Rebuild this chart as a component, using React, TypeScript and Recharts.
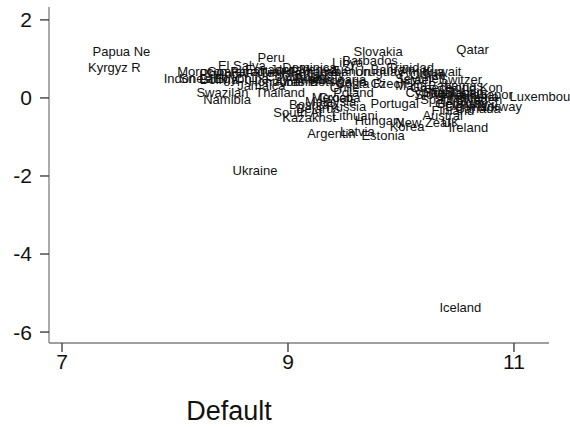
import React from 'react';
import { ScatterChart, Scatter, XAxis, YAxis } from 'recharts';

const countries = [
  'Papua Ne', 'Kyrgyz R', 'Morocco', 'Indonesi', 'Sri Lank', 'Guatemal', 'El Salva', 'Peru',
  'Philippi', 'Paraguay', 'Ecuador', 'Bolivia', 'Egypt', 'China', 'Honduras', 'Jamaica',
  'Thailand', 'Swazilan', 'Namibia', 'Ukraine', 'Tunisia', 'Jordan', 'Colombia', 'Dominica',
  'Panama', 'Venezuel', 'Albania', 'Armenia', 'Brazil', 'Turkey', 'Botswana', 'Bulgaria',
  'Lebanon', 'Libya', 'Barbados', 'Slovakia', 'Costa Ri', 'Poland', 'Czech', 'Bahrain',
  'Uruguay', 'Mexico', 'Croatia', 'Russia', 'Malaysia', 'Bosnia', 'Belarus', 'South Af',
  'Kazakhst', 'Lithuani', 'Argentin', 'Latvia', 'Estonia', 'Hungary', 'Portugal', 'Korea',
  'New Zeal', 'Trinidad', 'Kuwait', 'Switzer', 'Hong Kon', 'Singapor', 'Luxembou', 'Norway',
  'Austral', 'UK', 'Ireland', 'Qatar', 'Iceland', 'Slovenia', 'Greece', 'Israel',
  'Spain', 'Italy', 'France', 'Germany', 'Japan', 'Sweden', 'Denmark', 'Finland',
  'Netherla', 'Belgium', 'Canada', 'US', 'Cyprus', 'Malta', 'Oman', 'Saudi Ar',
  'Bahamas', 'Chile', 'Seychell', 'Antigua',
];

const logIncome = [
  7.27, 7.23, 8.02, 7.90, 8.04, 8.28, 8.38, 8.73,
  8.22, 8.49, 8.62, 8.22, 8.35, 8.53, 8.65, 8.55,
  8.71, 8.19, 8.25, 8.51, 8.75, 8.84, 8.80, 8.95,
  9.02, 9.11, 8.88, 8.97, 9.06, 9.15, 9.19, 9.27,
  9.28, 9.39, 9.48, 9.58, 9.42, 9.40, 9.73, 9.73,
  9.59, 9.21, 9.27, 9.34, 9.15, 9.01, 9.07, 8.87,
  8.95, 9.39, 9.17, 9.46, 9.65, 9.59, 9.73, 9.90,
  9.95, 9.88, 10.19, 10.34, 10.39, 10.53, 10.96, 10.68,
  10.19, 10.36, 10.42, 10.49, 10.34, 10.12, 10.08, 9.99,
  10.17, 10.26, 10.35, 10.30, 10.42, 10.48, 10.39, 10.27,
  10.43, 10.32, 10.48, 10.61, 10.04, 9.95, 10.08, 10.19,
  10.24, 9.37, 9.95, 9.99,
];

const residual = [
  1.18, 0.77, 0.69, 0.49, 0.49, 0.67, 0.82, 1.03,
  0.62, 0.67, 0.72, 0.46, 0.51, 0.51, 0.41, 0.31,
  0.13, 0.13, -0.05, -1.85, 0.64, 0.72, 0.54, 0.77,
  0.67, 0.72, 0.41, 0.46, 0.51, 0.59, 0.41, 0.46,
  0.67, 0.92, 0.97, 1.18, 0.36, 0.15, 0.36, 0.72,
  0.67, 0.0, 0.0, -0.21, -0.10, -0.18, -0.26, -0.38,
  -0.51, -0.44, -0.90, -0.85, -0.95, -0.59, -0.13, -0.74,
  -0.64, 0.77, 0.69, 0.46, 0.28, 0.08, 0.03, -0.23,
  -0.44, -0.62, -0.77, 1.23, -5.36, 0.08, 0.26, 0.46,
  -0.05, 0.13, 0.0, -0.15, 0.15, -0.05, -0.21, -0.31,
  0.03, -0.13, -0.26, 0.08, 0.15, 0.33, 0.59, 0.13,
  0.33, 0.26, 0.51, 0.67,
];

const xTicks = [7, 9, 11];
const yTicks = [-6, -4, -2, 0, 2];
const xTitle = 'Default';

const data = countries.map((name, i) => ({ name, x: logIncome[i], y: residual[i] }));

const FONT = 'Liberation Sans, Arial, Helvetica, sans-serif';

const LabelShape = (props: any) => {
  const { cx, cy, payload } = props;
  if (cx == null || cy == null) return null;
  return (
    <text
      x={cx}
      y={cy}
      dominantBaseline="central"
      fontSize={13}
      fontFamily={FONT}
      fill="#111"
    >
      {payload.name}
    </text>
  );
};

export default function App() {
  return (
    <div style={{ position: 'absolute', left: 0, top: 0, width: 570, height: 427, background: '#fff' }}>
      <ScatterChart
        width={570}
        height={427}
        margin={{ top: 7, right: 21, bottom: 0, left: 0 }}
        style={{ overflow: 'visible' }}
      >
        <XAxis
          type="number"
          dataKey="x"
          domain={[6.885, 11.31]}
          ticks={xTicks}
          height={84}
          tickSize={9}
          tickMargin={2}
          stroke="#7f7f7f"
          strokeWidth={1.3}
          tickLine={{ stroke: '#333' }}
          tick={{ fill: '#111', fontSize: 21, fontFamily: FONT }}
          label={{
            content: () => (
              <text x={229} y={420} textAnchor="middle" fontSize={27} fontFamily={FONT} fill="#111">
                {xTitle}
              </text>
            ),
          }}
        />
        <YAxis
          type="number"
          dataKey="y"
          domain={[-6.28, 2.33]}
          ticks={yTicks}
          width={49}
          tickSize={9}
          tickMargin={8}
          stroke="#7f7f7f"
          strokeWidth={1.3}
          tickLine={{ stroke: '#333' }}
          tick={{ fill: '#111', fontSize: 21, fontFamily: FONT }}
        />
        <Scatter data={data} shape={LabelShape} isAnimationActive={false} />
      </ScatterChart>
    </div>
  );
}
